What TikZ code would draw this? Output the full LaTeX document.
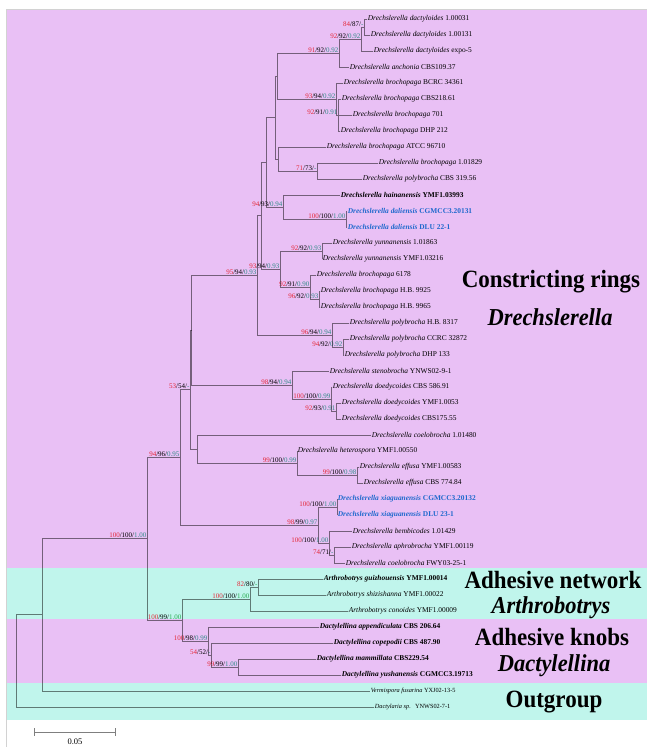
\documentclass[tikz,border=0pt]{standalone}
\usepackage{fontspec}
\setmainfont{Liberation Serif}
\usepackage{xcolor}
\usetikzlibrary{positioning}

\definecolor{ringbg}{RGB}{233,192,245}
\definecolor{netbg}{RGB}{192,245,236}
\definecolor{bsred}{RGB}{228,40,56}
\definecolor{bsteal}{RGB}{48,140,136}
\definecolor{bsgreen}{RGB}{40,170,80}
\definecolor{newsp}{RGB}{30,105,205}

\newcommand{\bsv}[4][bsteal]{\textcolor{bsred}{#2}/#3/\textcolor{#1}{#4}}
\newcommand{\taxon}[2]{\textit{#1} #2}
\newcommand{\tall}[1]{\scalebox{1}[1.08]{#1}}

\begin{document}
\begin{tikzpicture}[x=1pt, y=-1pt,
    tip/.style={anchor=west, inner sep=0.6pt, font=\fontsize{7.4}{8}\selectfont},
    boldtip/.style={tip, font=\fontsize{7.4}{8}\selectfont\bfseries},
    newtip/.style={boldtip, text=newsp},
    smalltip/.style={tip, font=\fontsize{6.3}{7}\selectfont},
    bs/.style={anchor=south east, inner sep=0.4pt, font=\fontsize{7}{8}\selectfont},
    grp/.style={inner sep=0pt, font=\fontsize{23}{25}\selectfont\bfseries},
    grpit/.style={inner sep=0pt, font=\fontsize{22.5}{25}\selectfont\bfseries\itshape},
    br/.style={draw=black, draw opacity=0.5, line width=0.8pt}]
    \useasboundingbox (0,0) rectangle (647,747);

    % Groups
    \fill[ringbg] (7,10) rectangle (647,568);
    \fill[netbg] (7,568) rectangle (647,619);
    \fill[ringbg] (7,619) rectangle (647,683);
    \fill[netbg] (7,683) rectangle (647,720);
    \draw[gray!35, line width=0.8pt] (6.5,747) -- (6.5,9.5) -- (647,9.5);

    \node[grp] (rings) at (551,282) {\tall{Constricting rings}};
    \node[grpit] (drech) at (550,317) {\tall{Drechslerella}};
    \node[grp] (network) at (553,580) {\tall{Adhesive network}};
    \node[grpit] (arthro) at (551,607.5) {\tall{Arthrobotrys}};
    \node[grp] (knobs) at (552,637) {\tall{Adhesive knobs}};
    \node[grpit] (dactyl) at (554,666) {\tall{Dactylellina}};
    \node[grp] (outg) at (554,702) {\tall{Outgroup}};

    % Leaves
    \node[tip] (dac1) at (367,19) {\taxon{Drechslerella dactyloides}{1.00031}};
    \node[tip] (dac2) at (370,35) {\taxon{Drechslerella dactyloides}{1.00131}};
    \node[tip] (dac3) at (373,51) {\taxon{Drechslerella dactyloides}{expo-5}};
    \node[tip] (anc) at (349,67) {\taxon{Drechslerella anchonia}{CBS109.37}};
    \node[tip] (bro1) at (343,83) {\taxon{Drechslerella brochopaga}{BCRC 34361}};
    \node[tip] (bro2) at (341,99) {\taxon{Drechslerella brochopaga}{CBS218.61}};
    \node[tip] (bro3) at (352,115) {\taxon{Drechslerella brochopaga}{701}};
    \node[tip] (bro4) at (340,131) {\taxon{Drechslerella brochopaga}{DHP 212}};
    \node[tip] (bro5) at (326,147) {\taxon{Drechslerella brochopaga}{ATCC 96710}};
    \node[tip] (bro6) at (378,163) {\taxon{Drechslerella brochopaga}{1.01829}};
    \node[tip] (pol1) at (362,179) {\taxon{Drechslerella polybrocha}{CBS 319.56}};
    \node[boldtip] (hai) at (340,195) {\taxon{Drechslerella hainanensis}{YMF1.03993}};
    \node[newtip] (dal1) at (347,211) {\taxon{Drechslerella daliensis}{CGMCC3.20131}};
    \node[newtip] (dal2) at (347,227) {\taxon{Drechslerella daliensis}{DLU 22-1}};
    \node[tip] (yun1) at (332,243) {\taxon{Drechslerella yunnanensis}{1.01863}};
    \node[tip] (yun2) at (322,259) {\taxon{Drechslerella yunnanensis}{YMF1.03216}};
    \node[tip] (bro7) at (316,275) {\taxon{Drechslerella brochopaga}{6178}};
    \node[tip] (bro8) at (320,291) {\taxon{Drechslerella brochopaga}{H.B. 9925}};
    \node[tip] (bro9) at (320,307) {\taxon{Drechslerella brochopaga}{H.B. 9965}};
    \node[tip] (pol2) at (349,323) {\taxon{Drechslerella polybrocha}{H.B. 8317}};
    \node[tip] (pol3) at (349,339) {\taxon{Drechslerella polybrocha}{CCRC 32872}};
    \node[tip] (pol4) at (344,355) {\taxon{Drechslerella polybrocha}{DHP 133}};
    \node[tip] (ste) at (329,371) {\taxon{Drechslerella stenobrocha}{YNWS02-9-1}};
    \node[tip] (doe1) at (332,387) {\taxon{Drechslerella doedycoides}{CBS 586.91}};
    \node[tip] (doe2) at (341,403) {\taxon{Drechslerella doedycoides}{YMF1.0053}};
    \node[tip] (doe3) at (341,419) {\taxon{Drechslerella doedycoides}{CBS175.55}};
    \node[tip] (coe1) at (371,435) {\taxon{Drechslerella coelobrocha}{1.01480}};
    \node[tip] (het) at (297,451) {\taxon{Drechslerella heterospora}{YMF1.00550}};
    \node[tip] (eff1) at (359,467) {\taxon{Drechslerella effusa}{YMF1.00583}};
    \node[tip] (eff2) at (363,483) {\taxon{Drechslerella effusa}{CBS 774.84}};
    \node[newtip] (xia1) at (337,499) {\taxon{Drechslerella xiaguanensis}{CGMCC3.20132}};
    \node[newtip] (xia2) at (337,515) {\taxon{Drechslerella xiaguanensis}{DLU 23-1}};
    \node[tip] (bem) at (352,531) {\taxon{Drechslerella bembicodes}{1.01429}};
    \node[tip] (aph) at (351,547) {\taxon{Drechslerella aphrobrocha}{YMF1.00119}};
    \node[tip] (coe2) at (345,563) {\taxon{Drechslerella coelobrocha}{FWY03-25-1}};
    \node[boldtip] (gui) at (323,579) {\taxon{Arthrobotrys guizhouensis}{YMF1.00014}};
    \node[tip] (shi) at (326,595) {\taxon{Arthrobotrys shizishanna}{YMF1.00022}};
    \node[tip] (con) at (348,611) {\taxon{Arthrobotrys conoides}{YMF1.00009}};
    \node[boldtip] (app) at (319,627) {\taxon{Dactylellina appendiculata}{CBS 206.64}};
    \node[boldtip] (cop) at (333,643) {\taxon{Dactylellina copepodii}{CBS 487.90}};
    \node[boldtip] (mam) at (316,659) {\taxon{Dactylellina mammillata}{CBS229.54}};
    \node[boldtip] (yus) at (341,675) {\taxon{Dactylellina yushanensis}{CGMCC3.19713}};
    \node[smalltip] (ver) at (370,691) {\taxon{Vermispora fusarina}{YXJ02-13-5}};
    \node[smalltip] (dsp) at (374,707) {\taxon{Dactylaria sp.}{ YNWS02-7-1}};

    % Internal nodes
    \coordinate (dacA) at (364,27);
    \coordinate (dacB) at (361,39);
    \coordinate (dacC) at (339,53);
    \coordinate (broC) at (338,115);
    \coordinate (broB) at (336,99);
    \coordinate (cladeA) at (277,76);
    \coordinate (pbro) at (317,171);
    \coordinate (cladeE) at (278,159);
    \coordinate (cladeD) at (275,117.5);
    \coordinate (dal) at (346,219);
    \coordinate (haiG) at (283,207);
    \coordinate (cladeF) at (266,162.2);
    \coordinate (yun) at (322,251);
    \coordinate (broR) at (319,299);
    \coordinate (broQ) at (310,287);
    \coordinate (cladeM) at (280,269);
    \coordinate (cladeL) at (261,215.6);
    \coordinate (polO) at (343,347);
    \coordinate (polN) at (332,335);
    \coordinate (cladeK) at (257,275.3);
    \coordinate (doeZ) at (336,411);
    \coordinate (doeY) at (331,399);
    \coordinate (steU) at (292,385);
    \coordinate (cladeH) at (191.5,330.2);
    \coordinate (effB) at (357,475);
    \coordinate (hetA) at (297,463);
    \coordinate (coeV) at (197,449);
    \coordinate (cladeG) at (190,389.6);
    \coordinate (xia) at (337,507);
    \coordinate (aphF) at (334,555);
    \coordinate (bemE) at (329,543);
    \coordinate (xiaC) at (318,525);
    \coordinate (cladeT) at (180,457.3);
    \coordinate (artM) at (258,587);
    \coordinate (art) at (250,599);
    \coordinate (dacO) at (238,667);
    \coordinate (dacN) at (211,655);
    \coordinate (dacL) at (208,641);
    \coordinate (trap) at (182,620);
    \coordinate (ingr) at (147,538.6);
    \coordinate (outA) at (42,614.8);
    \coordinate (root) at (16,660.9);

    % Support values
    \node[bs] (s-dacA) at (dacA) {\bsv{84}{87}{-}};
    \node[bs] (s-dacB) at (dacB) {\bsv{92}{92}{0.92}};
    \node[bs] (s-dacC) at (dacC) {\bsv{91}{92}{0.92}};
    \node[bs] (s-broB) at (broB) {\bsv{93}{94}{0.92}};
    \node[bs] (s-broC) at (broC) {\bsv{92}{91}{0.91}};
    \node[bs] (s-pbro) at (pbro) {\bsv{71}{73}{-}};
    \node[bs] (s-haiG) at (haiG) {\bsv{94}{93}{0.94}};
    \node[bs] (s-dal) at (dal) {\bsv{100}{100}{1.00}};
    \node[bs] (s-cladeK) at (cladeK) {\bsv{95}{94}{0.93}};
    \node[bs] (s-cladeM) at (cladeM) {\bsv{93}{94}{0.93}};
    \node[bs] (s-yun) at (yun) {\bsv{92}{92}{0.93}};
    \node[bs] (s-broQ) at (broQ) {\bsv{92}{91}{0.90}};
    \node[bs] (s-broR) at (broR) {\bsv{96}{92}{0.93}};
    \node[bs] (s-polN) at (polN) {\bsv{96}{94}{0.94}};
    \node[bs] (s-polO) at (polO) {\bsv{94}{92}{0.92}};
    \node[bs] (s-steU) at (steU) {\bsv{98}{94}{0.94}};
    \node[bs] (s-doeY) at (doeY) {\bsv{100}{100}{0.99}};
    \node[bs] (s-doeZ) at (doeZ) {\bsv{92}{93}{0.91}};
    \node[bs] (s-cladeG) at (cladeG) {\bsv{53}{54}{-}};
    \node[bs] (s-hetA) at (hetA) {\bsv{99}{100}{0.99}};
    \node[bs] (s-effB) at (effB) {\bsv{99}{100}{0.98}};
    \node[bs] (s-cladeT) at (cladeT) {\bsv{94}{96}{0.95}};
    \node[bs] (s-xiaC) at (xiaC) {\bsv{98}{99}{0.97}};
    \node[bs] (s-xia) at (xia) {\bsv{100}{100}{1.00}};
    \node[bs] (s-bemE) at (bemE) {\bsv{100}{100}{1.00}};
    \node[bs] (s-aphF) at (aphF) {\bsv{74}{71}{-}};
    \node[bs] (s-ingr) at (ingr) {\bsv{100}{100}{1.00}};
    \node[bs] (s-trap) at (trap) {\bsv[bsgreen]{100}{99}{1.00}};
    \node[bs] (s-art) at (art) {\bsv[bsgreen]{100}{100}{1.00}};
    \node[bs] (s-artM) at (artM) {\bsv[bsgreen]{82}{80}{-}};
    \node[bs] (s-dacL) at (dacL) {\bsv{100}{98}{0.99}};
    \node[bs] (s-dacN) at (dacN) {\bsv{54}{52}{-}};
    \node[bs] (s-dacO) at (dacO) {\bsv{99}{99}{1.00}};

    % Branches
    \draw[br] (dacA) |- (dac1.west) (dacA) |- (dac2.west);
    \draw[br] (dacB) |- (dacA) (dacB) |- (dac3.west);
    \draw[br] (dacC) |- (dacB) (dacC) |- (anc.west);
    \draw[br] (broC) |- (bro2.west) (broC) -- (bro3.west) (broC) |- (bro4.west);
    \draw[br] (broB) |- (bro1.west) (broB) |- (broC);
    \draw[br] (cladeA) |- (dacC) (cladeA) |- (broB);
    \draw[br] (pbro) |- (bro6.west) (pbro) |- (pol1.west);
    \draw[br] (cladeE) |- (bro5.west) (cladeE) |- (pbro);
    \draw[br] (cladeD) |- (cladeA) (cladeD) |- (cladeE);
    \draw[br] (dal) |- (dal1.west) (dal) |- (dal2.west);
    \draw[br] (haiG) |- (hai.west) (haiG) |- (dal);
    \draw[br] (cladeF) |- (cladeD) (cladeF) |- (haiG);
    \draw[br] (yun) |- (yun1.west) (yun) |- (yun2.west);
    \draw[br] (broR) |- (bro8.west) (broR) |- (bro9.west);
    \draw[br] (broQ) |- (bro7.west) (broQ) |- (broR);
    \draw[br] (cladeM) |- (yun) (cladeM) |- (broQ);
    \draw[br] (cladeL) |- (cladeF) (cladeL) |- (cladeM);
    \draw[br] (polO) |- (pol3.west) (polO) |- (pol4.west);
    \draw[br] (polN) |- (pol2.west) (polN) |- (polO);
    \draw[br] (cladeK) |- (cladeL) (cladeK) |- (polN);
    \draw[br] (doeZ) |- (doe2.west) (doeZ) |- (doe3.west);
    \draw[br] (doeY) |- (doe1.west) (doeY) |- (doeZ);
    \draw[br] (steU) |- (ste.west) (steU) |- (doeY);
    \draw[br] (cladeH) |- (cladeK) (cladeH) |- (steU);
    \draw[br] (effB) |- (eff1.west) (effB) |- (eff2.west);
    \draw[br] (hetA) |- (het.west) (hetA) |- (effB);
    \draw[br] (coeV) |- (coe1.west) (coeV) |- (hetA);
    \draw[br] (cladeG) |- (cladeH) (cladeG) |- (coeV);
    \draw[br] (xia) |- (xia1.west) (xia) |- (xia2.west);
    \draw[br] (aphF) |- (aph.west) (aphF) |- (coe2.west);
    \draw[br] (bemE) |- (bem.west) (bemE) |- (aphF);
    \draw[br] (xiaC) |- (xia) (xiaC) |- (bemE);
    \draw[br] (cladeT) |- (cladeG) (cladeT) |- (xiaC);
    \draw[br] (artM) |- (gui.west) (artM) |- (shi.west);
    \draw[br] (art) |- (artM) (art) |- (con.west);
    \draw[br] (dacO) |- (mam.west) (dacO) |- (yus.west);
    \draw[br] (dacN) |- (cop.west) (dacN) |- (dacO);
    \draw[br] (dacL) |- (app.west) (dacL) |- (dacN);
    \draw[br] (trap) |- (art) (trap) |- (dacL);
    \draw[br] (ingr) |- (cladeT) (ingr) |- (trap);
    \draw[br] (outA) |- (ingr) (outA) |- (ver.west);
    \draw[br] (root) |- (outA) (root) |- (dsp.west);

    % Scale bar
    \coordinate (barL) at (34,732);
    \coordinate (barR) at (116,732);
    \draw[br, |-|] (barL) -- (barR);
    \node[font=\fontsize{8.5}{9}\selectfont, anchor=north] (barlab) at (75,735) {0.05};
\end{tikzpicture}
\end{document}
